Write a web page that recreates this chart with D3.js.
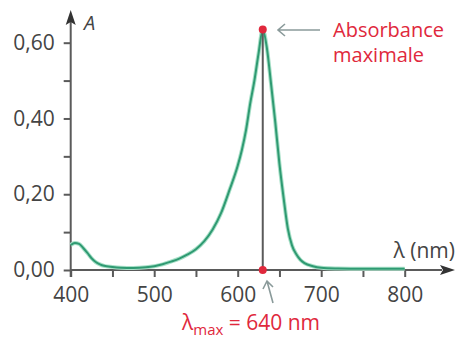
<!DOCTYPE html>
<html>
<head>
<meta charset="utf-8">
<script src="https://cdn.jsdelivr.net/npm/d3@7"></script>
<style>
  body { margin: 0; background: #fff; }
  svg { display: block; }
  text { font-family: "Open Sans", sans-serif; }
</style>
</head>
<body>
<div class="canvas"></div>
<script>
// spectrum values
const wavelengths = [400, 405, 410, 415, 420, 425, 430, 435, 440, 450, 460, 475, 490, 500, 510, 520, 530, 540, 550, 560, 570, 580, 590, 600, 605, 610, 615, 620, 625, 630, 635, 640, 645, 650, 655, 660, 665, 670, 675, 680, 690, 700, 720, 750, 800];
const absorbances = [0.066, 0.071, 0.069, 0.058, 0.045, 0.031, 0.021, 0.015, 0.011, 0.008, 0.006, 0.005, 0.007, 0.010, 0.015, 0.022, 0.030, 0.041, 0.055, 0.076, 0.107, 0.150, 0.210, 0.275, 0.317, 0.370, 0.440, 0.500, 0.572, 0.635, 0.585, 0.490, 0.390, 0.280, 0.190, 0.110, 0.065, 0.042, 0.027, 0.018, 0.010, 0.006, 0.004, 0.003, 0.003];
const xTicks = [400, 450, 500, 550, 600, 650, 700, 750, 800];
const xLabels = [400, 500, 600, 700, 800];
const yTicks = [0, 0.1, 0.2, 0.3, 0.4, 0.5, 0.6];
const yLabels = [0, 0.2, 0.4, 0.6];
const peak = { lambda: 630, value: 0.635 };

const dims = { width: 457, height: 338 };
const colors = { axis: '#5a5a5a', text: '#444', curve: '#2f9a72', red: '#e0283c', pointer: '#8a9a9a' };

const svg = d3.select('.canvas')
    .append('svg')
    .attr('width', dims.width)
    .attr('height', dims.height);

const x = d3.scaleLinear().domain([400, 800]).range([70.7, 404.7]);
const y = d3.scaleLinear().domain([0, 0.6]).range([270, 42.7]);

const data = wavelengths.map((l, i) => ({ l, a: absorbances[i] }));

// axes
const xAxis = svg.append('g')
    .attr('transform', `translate(0, ${y(0)})`)
    .call(d3.axisBottom(x).tickValues(xTicks).tickSize(7).tickPadding(10)
        .tickFormat(d => xLabels.includes(d) ? d : ''));
xAxis.select('.domain').remove();
xAxis.selectAll('line').attr('stroke', colors.axis).attr('stroke-width', 2);
xAxis.selectAll('text').attr('font-size', 21).attr('fill', colors.text).attr('font-family', '"Open Sans", sans-serif');

const yAxis = svg.append('g')
    .attr('transform', `translate(${x(400)}, 0)`)
    .call(d3.axisLeft(y).tickValues(yTicks).tickSize(7).tickPadding(9)
        .tickFormat(d => yLabels.includes(d) ? d3.format('.2f')(d).replace('.', ',') : ''));
yAxis.select('.domain').remove();
yAxis.selectAll('line').attr('stroke', colors.axis).attr('stroke-width', 2);
yAxis.selectAll('text').attr('font-size', 21).attr('fill', colors.text).attr('font-family', '"Open Sans", sans-serif');

// axis lines with arrow heads
svg.append('line')
    .attr('x1', x(400)).attr('x2', 442).attr('y1', y(0)).attr('y2', y(0))
    .attr('stroke', colors.axis).attr('stroke-width', 2);
svg.append('path')
    .attr('d', `M455,${y(0)} L440,${y(0) - 5} L443,${y(0)} L440,${y(0) + 5} Z`)
    .attr('fill', '#333');
svg.append('line')
    .attr('x1', x(400)).attr('x2', x(400)).attr('y1', y(0) + 7).attr('y2', 22)
    .attr('stroke', colors.axis).attr('stroke-width', 2);
svg.append('path')
    .attr('d', `M${x(400)},10 L${x(400) - 5},25 L${x(400)},22 L${x(400) + 5},25 Z`)
    .attr('fill', '#333');

svg.append('text').text('A')
    .attr('x', 84).attr('y', 30)
    .attr('font-size', 20).attr('font-style', 'italic').attr('fill', colors.text);
svg.append('text').text('λ (nm)')
    .attr('x', 455).attr('y', 258).attr('text-anchor', 'end')
    .attr('font-size', 21).attr('fill', colors.text);

// spectrum curve
const line = d3.line()
    .x(d => x(d.l))
    .y(d => y(d.a))
    .curve(d3.curveMonotoneX);

svg.append('path')
    .datum(data)
    .attr('d', line)
    .attr('fill', 'none')
    .attr('stroke', '#a8e0c8')
    .attr('stroke-width', 4);
svg.append('path')
    .datum(data)
    .attr('d', line)
    .attr('fill', 'none')
    .attr('stroke', colors.curve)
    .attr('stroke-width', 2);

// lambda max marker
svg.append('line')
    .attr('x1', x(peak.lambda)).attr('x2', x(peak.lambda))
    .attr('y1', y(peak.value)).attr('y2', y(0))
    .attr('stroke', colors.axis).attr('stroke-width', 2);
svg.selectAll('circle.mark')
    .data([peak.value, 0])
    .enter()
    .append('circle')
        .attr('class', 'mark')
        .attr('cx', x(peak.lambda))
        .attr('cy', d => y(d))
        .attr('r', 4)
        .attr('fill', colors.red);

// pointers
svg.append('path')
    .attr('d', `M320,30 L278,30 M285,24 L278,30 L285,36`)
    .attr('fill', 'none').attr('stroke', colors.pointer).attr('stroke-width', 1.6);
svg.append('path')
    .attr('d', `M273,303 L267,281 M263,289 L267,281 L273,287`)
    .attr('fill', 'none').attr('stroke', colors.pointer).attr('stroke-width', 1.6);

// annotations
const ann = svg.append('text')
    .attr('x', 333).attr('y', 37)
    .attr('font-size', 20).attr('fill', colors.red);
ann.append('tspan').text('Absorbance');
ann.append('tspan').attr('x', 333).attr('dy', 25).text('maximale');

const lm = svg.append('text')
    .attr('x', 182).attr('y', 330)
    .attr('font-size', 21).attr('fill', colors.red);
lm.append('tspan').text('λ');
lm.append('tspan').attr('font-size', 15).attr('dy', 5).text('max');
lm.append('tspan').attr('dy', -5).text(' = 640 nm');
</script>
</body>
</html>
